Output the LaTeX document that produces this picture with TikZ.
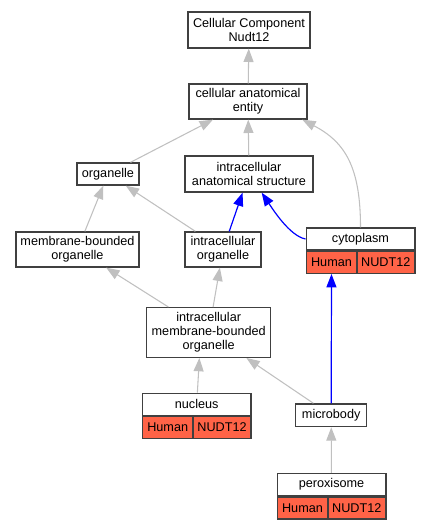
\documentclass[tikz,border=0pt]{standalone}
\usepackage{fontspec}
\setmainfont{Liberation Sans}
\usetikzlibrary{arrows.meta}
\definecolor{tomato}{RGB}{255,99,71}
\definecolor{isagray}{RGB}{192,192,192}
\begin{document}
\begin{tikzpicture}
		[x=0.75pt, y=0.75pt,
		box/.style= {draw=black!75, line width=1pt, fill=white, inner sep=0pt, align=center, font=\fontsize{9.5}{10.5}\selectfont},
		cell/.style= {box, fill=tomato, minimum height=16.5pt},
		isa/.style= {draw=isagray, line width=0.8pt, -{Triangle[length=10pt,width=7.5pt]}},
		part/.style= {draw=blue, line width=0.9pt, -{Triangle[length=10pt,width=7.5pt]}}]

		\useasboundingbox (0,0) rectangle (431,-528);

		\node[box, minimum width=91.5pt, minimum height=27pt] (top) at (249,-30) {Cellular Component\\Nudt12};

		\node[box, minimum width=88.5pt, minimum height=26.25pt] (cae) at (248,-101.5) {cellular anatomical\\entity}
			edge [isa]	(top)
		;

		\node[box, minimum width=46.5pt, minimum height=16.5pt] (org) at (108,-174) {organelle}
			edge [isa]	(cae)
		;

		\node[box, minimum width=96pt, minimum height=27pt] (ias) at (249,-174) {intracellular\\anatomical structure}
			edge [isa]	(cae)
		;

		\node[box, minimum width=92.25pt, minimum height=26.25pt] (mbo) at (77.5,-249.5) {membrane-bounded\\organelle}
			edge [isa]	(org)
		;

		\node[box, minimum width=57pt, minimum height=26.25pt] (io) at (223,-249.5) {intracellular\\organelle}
			edge [isa]	(org)
			edge [part]	(ias)
		;

		% cytoplasm record
		\node[box, minimum width=81.5pt, minimum height=16.5pt] (cyto) at (360.5,-239) {cytoplasm};
		\node[cell, minimum width=38pt, anchor=north west] (cytoH) at (cyto.south west) {Human};
		\node[cell, minimum width=43.5pt, anchor=north east] (cytoN) at (cyto.south east) {NUDT12};
		\draw[part] (cyto.west) .. controls +(-16,3) and +(10.3,-15.3) .. ([xshift=9.5pt]ias.south);
		\draw[isa] (cyto.north) .. controls +(0,60) and +(43,-22.5) .. ([xshift=-4pt]cae.south east);

		\node[box, minimum width=93pt, minimum height=37.2pt] (imbo) at (208.7,-332.5) {intracellular\\membrane-bounded\\organelle}
			edge [isa]	(mbo)
			edge [isa]	(io)
		;

		% nucleus record
		\node[box, minimum width=81.5pt, minimum height=16.5pt] (nuc) at (196.7,-404.3) {nucleus}
			edge [isa]	([xshift=-7pt]imbo.south)
		;
		\node[cell, minimum width=38pt, anchor=north west] (nucH) at (nuc.south west) {Human};
		\node[cell, minimum width=43.5pt, anchor=north east] (nucN) at (nuc.south east) {NUDT12};

		\node[box, minimum width=53.25pt, minimum height=17pt] (mb) at (331.2,-415.3) {microbody}
			edge [isa]	(imbo)
			edge [part]	(cytoH)
		;

		% peroxisome record
		\node[box, minimum width=81.5pt, minimum height=16.5pt] (per) at (331.5,-484.5) {peroxisome}
			edge [isa]	(mb)
		;
		\node[cell, minimum width=38pt, anchor=north west] (perH) at (per.south west) {Human};
		\node[cell, minimum width=43.5pt, anchor=north east] (perN) at (per.south east) {NUDT12};

	\end{tikzpicture}
\end{document}
